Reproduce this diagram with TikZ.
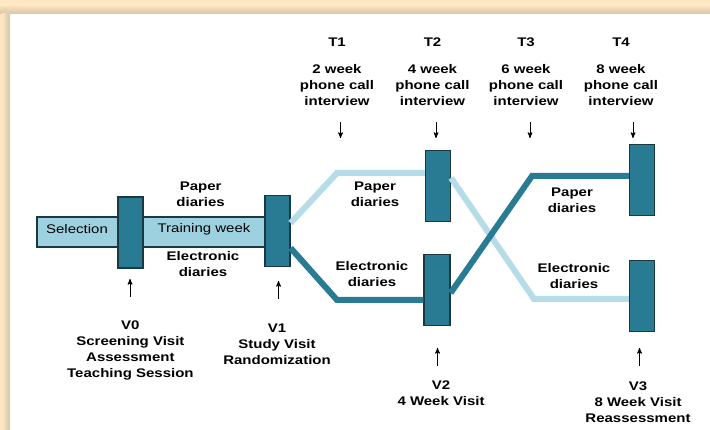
\documentclass[tikz,border=0pt]{standalone}
\usepackage{fontspec}
\setmainfont[FakeStretch=1.2]{Liberation Sans}
\usetikzlibrary{positioning}
\usetikzlibrary{arrows}

\definecolor{boxteal}{HTML}{297A93}
\definecolor{boxline}{HTML}{1A3944}
\definecolor{lightline}{HTML}{B5DCE7}
\definecolor{barfill}{HTML}{9ED1DF}
\definecolor{framebeige}{HTML}{FCE6C3}
\definecolor{frameshadow}{HTML}{D6C5A4}

\begin{document}
\begin{tikzpicture}[x=1pt,y=-1pt,>=stealth',
	visit/.style={draw=boxline,fill=boxteal,line width=1.2pt,minimum width=25pt,minimum height=71pt,inner sep=0pt},
	lbl/.style={font=\bfseries\fontsize{12.5}{16}\selectfont,align=center,inner sep=0pt},
	paper line/.style={line width=6pt,draw=lightline},
	elec line/.style={line width=6pt,draw=boxteal},
	tick arrow/.style={->,line width=1pt}]
	
	\useasboundingbox (0,0) rectangle (710,430);
	% frame
	\fill[framebeige] (0,0) rectangle (710,430);
	\shade[top color=framebeige,bottom color=frameshadow] (0,5) rectangle (710,14);
	\shade[left color=framebeige,right color=frameshadow] (2,14) rectangle (10,430);
	\fill[white] (10,14) rectangle (710,430);
	
	% selection and training bar
	\node[draw=boxline,fill=barfill,line width=1.2pt,minimum width=228pt,minimum height=30pt,inner sep=0pt] (bar) at (151,232) {};
	\node[font=\fontsize{12.5}{16}\selectfont] (sel) at (77,229) {Selection};
	\node[font=\fontsize{12.5}{16}\selectfont] (train) at (204,229) {Training week};
	
	% branch points
	\coordinate (pu) at (337,173);
	\coordinate (pd) at (337,300);
	\coordinate (cu) at (532,176);
	\coordinate (cd) at (534,299);
	
	% visit boxes
	\node[visit] (v0) at (130.5,232.5) {};
	\node[visit] (v1) at (277.5,231) {};
	\node[visit] (t2) at (438,186) {};
	\node[visit,minimum width=26pt] (v2) at (437,290) {};
	\node[visit] (t4) at (642,180) {};
	\node[visit] (v3) at (642,296) {};
	
	% diary lines
	\draw[paper line] ([yshift=8pt]v1.east) -- (pu) -- (pu -| t2.west);
	\draw[paper line] ([yshift=8pt]t2.east) -- (cd) -- (cd -| v3.west);
	\draw[elec line] ([yshift=-17pt]v1.east) -- (pd) -- (pd -| v2.west);
	\draw[elec line] ([yshift=-3pt]v2.east) -- (cu) -- (cu -| t4.west);
	
	% diary labels
	\node[lbl] (pap0) at (200.6,194) {Paper\\diaries};
	\node[lbl] (ele0) at (203,264.5) {Electronic\\diaries};
	\node[lbl] (pap1) at (375,194) {Paper\\diaries};
	\node[lbl] (ele1) at (372,274.5) {Electronic\\diaries};
	\node[lbl] (pap2) at (572,200) {Paper\\diaries};
	\node[lbl] (ele2) at (574,276) {Electronic\\diaries};
	
	% phone calls
	\node[lbl] (t1h) at (337,42) {T1};
	\node[lbl] (t2h) at (432.5,42) {T2};
	\node[lbl] (t3h) at (526,42) {T3};
	\node[lbl] (t4h) at (621,42) {T4};
	\node[lbl] (t1txt) at (337,85) {2 week\\phone call\\interview};
	\node[lbl] (t2txt) at (432.5,85) {4 week\\phone call\\interview};
	\node[lbl] (t3txt) at (526,85) {6 week\\phone call\\interview};
	\node[lbl] (t4txt) at (621,85) {8 week\\phone call\\interview};
	\coordinate (a1) at (340.5,138);
	\coordinate (a2) at (436,138);
	\coordinate (a3) at (530,138);
	\coordinate (a4) at (633,138);
	\foreach \a in {a1,a2,a3,a4}
	\draw[tick arrow] ([yshift=16pt]\a) -- (\a);
	
	% visits
	\node[lbl] (v0txt) at (130.4,350.5) {V0\\Screening Visit\\Assessment\\Teaching Session};
	\node[lbl] (v1txt) at (277,344) {V1\\Study Visit\\Randomization};
	\node[lbl] (v2txt) at (441,393.5) {V2\\4 Week Visit};
	\node[lbl] (v3txt) at (638,402) {V3\\8 Week Visit\\Reassessment};
	\coordinate (b0) at (130,279);
	\coordinate (b1) at (278.5,281);
	\coordinate (b2) at (437.5,348);
	\coordinate (b3) at (639.5,348);
	\foreach \b in {b0,b1,b2,b3}
	\draw[tick arrow] ([yshift=-18pt]\b) -- (\b);
\end{tikzpicture}
\end{document}
